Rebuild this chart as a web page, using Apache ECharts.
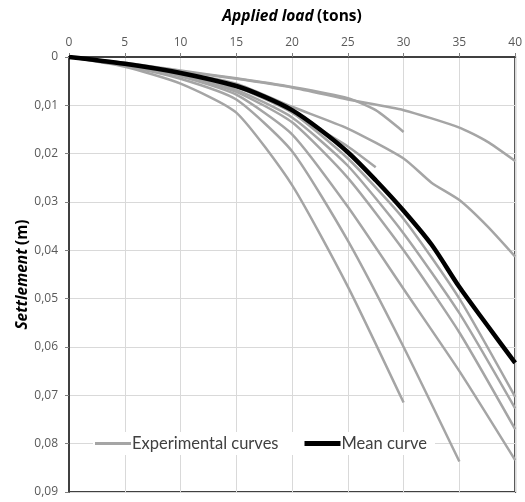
<!DOCTYPE html>
<html>
<head>
<meta charset="utf-8">
<script src="https://cdn.jsdelivr.net/npm/echarts@6/dist/echarts.min.js"></script>
<style>html,body{margin:0;padding:0;background:#fff}#c{width:525px;height:502px}</style>
</head>
<body>
<div id="c"></div>
<script>
// Tick labels
var xTicks = [0, 5, 10, 15, 20, 25, 30, 35, 40];
var yTicks = [0, 0.01, 0.02, 0.03, 0.04, 0.05, 0.06, 0.07, 0.08, 0.09];

// Experimental curves: [load (tons), settlement (m)]
var expA = [[0,0],[5,0.0013],[10,0.003],[15,0.0045],[20,0.0063],[25,0.0088],[30,0.011],[35,0.0146],[37.5,0.0175],[40,0.0215]];
var expB = [[0,0],[5,0.0012],[10,0.0028],[15,0.0044],[20,0.0062],[25,0.0085],[27.5,0.011],[30,0.0155]];
var expC = [[0,0],[5,0.0014],[10,0.0032],[15,0.0055],[20,0.0103],[25,0.0148],[30,0.021],[32.5,0.026],[35,0.0296],[37.5,0.035],[40,0.0413]];
var expD = [[0,0],[5,0.0014],[10,0.0033],[15,0.0058],[20,0.0112],[22.5,0.015],[25,0.0185],[27.5,0.0228]];
var expE = [[0,0],[5,0.002],[10,0.0055],[15,0.0115],[20,0.0265],[25,0.0475],[30,0.0715]];
var expF = [[0,0],[5,0.0018],[10,0.0045],[15,0.0088],[20,0.0195],[25,0.038],[30,0.060],[35,0.0837]];
var expH1 = [[0,0],[5,0.0014],[10,0.0034],[15,0.0062],[20,0.0115],[25,0.021],[30,0.0335],[35,0.050],[40,0.0703]];
var expH2 = [[0,0],[5,0.0014],[10,0.0035],[15,0.0068],[20,0.0125],[25,0.0225],[30,0.0365],[35,0.053],[40,0.0727]];
var expH3 = [[0,0],[5,0.0015],[10,0.0037],[15,0.0072],[20,0.0135],[25,0.025],[30,0.040],[35,0.057],[40,0.077]];
var expH4 = [[0,0],[5,0.0016],[10,0.004],[15,0.0078],[20,0.016],[25,0.031],[30,0.048],[35,0.065],[40,0.0834]];

// Mean curve
var meanCurve = [[0,0],[5,0.0014],[10,0.0033],[15,0.006],[17.5,0.0082],[20,0.011],[22.5,0.015],[25,0.0197],[27.5,0.0255],[30,0.0318],[32.5,0.0388],[35,0.0476],[37.5,0.0555],[40,0.0633]];

var experimental = [expA, expB, expC, expD, expE, expF, expH1, expH2, expH3, expH4];

var series = experimental.map(function (d) {
  return {
    name: 'Experimental curves', type: 'line', data: d, symbol: 'none',
    lineStyle: { color: '#a5a5a5', width: 2.5 }, itemStyle: { color: '#a5a5a5' },
    smooth: 0.2, z: 2
  };
});
series.push({
  name: 'Mean curve', type: 'line', data: meanCurve, symbol: 'none',
  lineStyle: { color: '#000', width: 4.5 }, itemStyle: { color: '#000' },
  smooth: 0.3, z: 3
});

var chart = echarts.init(document.getElementById('c'));
chart.setOption({
  animation: false,
  grid: { left: 69, right: 8, top: 57, bottom: 10, show: true, borderColor: '#404040', borderWidth: 2, backgroundColor: 'transparent' },
  xAxis: {
    type: 'value', position: 'top', min: 0, max: 40, interval: 5,
    name: '{i|Applied load} {b|(tons)}', nameLocation: 'middle', nameGap: 32,
    nameTextStyle: { rich: {
      i: { fontFamily: 'Open Sans', fontSize: 15.5, fontWeight: 'bold', fontStyle: 'italic', color: '#000' },
      b: { fontFamily: 'Open Sans', fontSize: 15.5, fontWeight: 'bold', color: '#000' } } },
    axisLine: { show: true, lineStyle: { color: '#404040', width: 2 } },
    axisTick: { show: true, length: 4, lineStyle: { color: '#808080' } },
    axisLabel: { margin: 8, fontFamily: 'Open Sans', fontSize: 12, color: '#595959',
      formatter: function (v) { return xTicks.indexOf(v) >= 0 ? String(v) : ''; } },
    splitLine: { show: true, lineStyle: { color: '#d9d9d9', width: 1 } }
  },
  yAxis: {
    type: 'value', inverse: true, min: 0, max: 0.09, interval: 0.01,
    name: '{i|Settlement} {b|(m)}', nameLocation: 'middle', nameGap: 38, nameRotate: 90,
    nameMoveOverlap: false,
    nameTextStyle: { rich: {
      i: { fontFamily: 'Open Sans', fontSize: 15.5, fontWeight: 'bold', fontStyle: 'italic', color: '#000' },
      b: { fontFamily: 'Open Sans', fontSize: 15.5, fontWeight: 'bold', color: '#000' } } },
    axisLine: { show: true, lineStyle: { color: '#404040', width: 2 } },
    axisTick: { show: true, length: 4, lineStyle: { color: '#808080' } },
    axisLabel: { margin: 11, fontFamily: 'Open Sans', fontSize: 12, color: '#595959',
      formatter: function (v) {
        var r = Math.round(v * 100) / 100;
        var i = yTicks.indexOf(r);
        if (i < 0) return '';
        return r === 0 ? '0' : r.toFixed(2).replace('.', ',');
      } },
    splitLine: { show: true, lineStyle: { color: '#d9d9d9', width: 1 } }
  },
  legend: {
    data: [
      { name: 'Experimental curves', icon: 'path://M0,0H36V3H0Z' },
      { name: 'Mean curve', icon: 'path://M0,0H36V5H0Z' }
    ],
    left: 93, top: 432, orient: 'horizontal',
    backgroundColor: '#fff', padding: [3, 8, 3, 2],
    itemWidth: 36, itemHeight: 10, itemGap: 26,
    textStyle: { fontFamily: 'Lato', fontSize: 16.5, color: '#404040', padding: [0, 0, 0, -4] }
  },
  series: series
});
</script>
</body>
</html>
